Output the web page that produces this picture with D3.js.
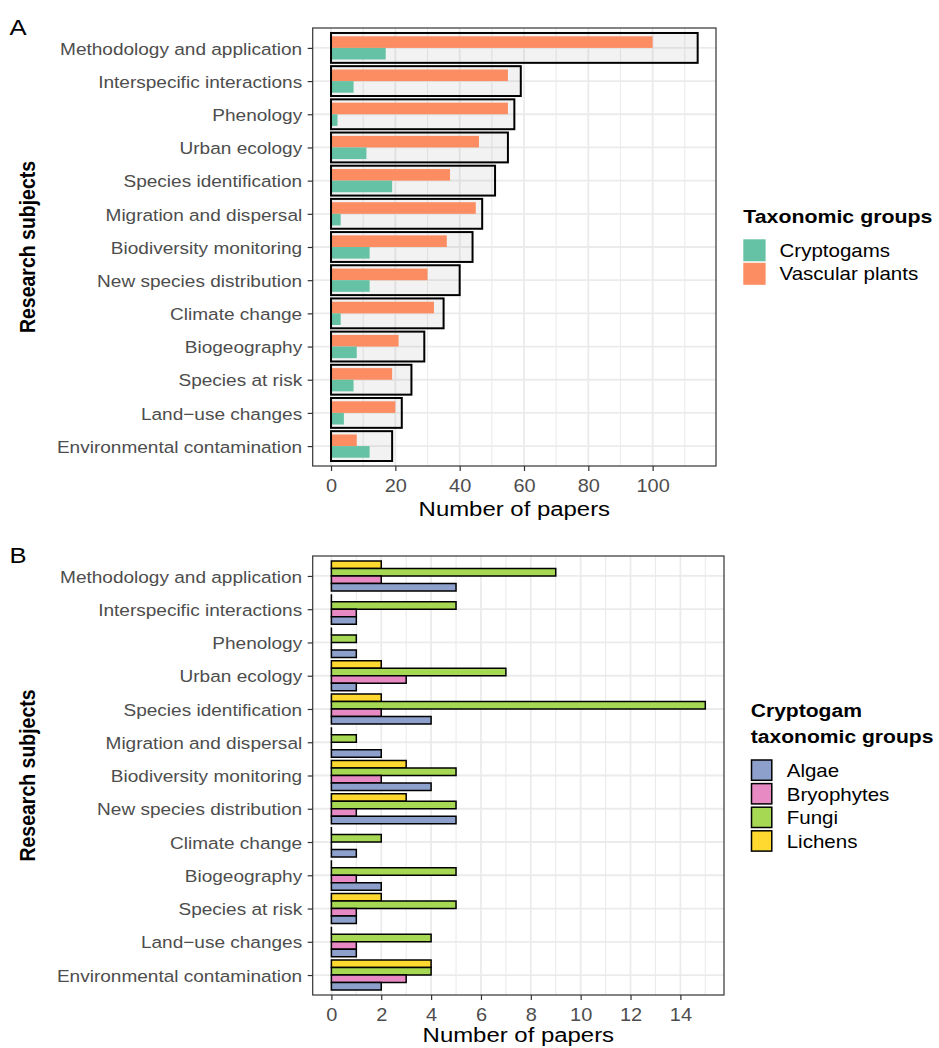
<!DOCTYPE html>
<html>
<head>
<meta charset="utf-8">
<script src="https://cdn.jsdelivr.net/npm/d3@7"></script>
<style>
  body { margin: 0; background: #fff; }
  svg { display: block; }
  text { font-family: "Liberation Sans", Arial, Helvetica, sans-serif; }
</style>
</head>
<body>
<svg id="fig" width="939" height="1048"></svg>
<script>
// ---- data -------------------------------------------------------------
const subjects = [
  "Methodology and application", "Interspecific interactions", "Phenology",
  "Urban ecology", "Species identification", "Migration and dispersal",
  "Biodiversity monitoring", "New species distribution", "Climate change",
  "Biogeography", "Species at risk", "Land\u2212use changes",
  "Environmental contamination"
];

// Panel A: papers per subject (total) and split by taxonomic group
const totalPapers    = [114, 59, 57, 55, 51, 47, 44, 40, 35, 29, 25, 22, 19];
const vascularPlants = [100, 55, 55, 46, 37, 45, 36, 30, 32, 21, 19, 20, 8];
const cryptogams     = [17, 7, 2, 11, 19, 3, 12, 12, 3, 8, 7, 4, 12];

// Panel B: papers per subject by cryptogam group
const algae      = [5, 1, 1, 1, 4, 2, 4, 5, 1, 2, 1, 1, 2];
const bryophytes = [2, 1, 0, 3, 2, 0, 2, 1, 0, 1, 1, 1, 3];
const fungi      = [9, 5, 1, 7, 15, 1, 5, 5, 2, 5, 5, 4, 4];
const lichens    = [2, 0, 0, 2, 2, 0, 3, 3, 0, 0, 2, 0, 4];

const groupsA = ["Cryptogams", "Vascular plants"];
const groupsB = ["Algae", "Bryophytes", "Fungi", "Lichens"];
const ticksA = [0, 20, 40, 60, 80, 100];
const ticksB = [0, 2, 4, 6, 8, 10, 12, 14];

// ---- styling ------------------------------------------------------------
const SX = 1.14;                 // horizontal text stretch
const colA = d3.scaleOrdinal(groupsA, ["#66C2A5", "#FC8D62"]);
const colB = d3.scaleOrdinal(groupsB, ["#8DA0CB", "#E78AC3", "#A6D854", "#FFD92F"]);
const GRID = "#EBEBEB", AXIS = "#333333", TICKTXT = "#4D4D4D";

const svg = d3.select("#fig");

function label(g, x, y, str, o = {}) {
  return g.append("text")
    .attr("transform", `translate(${x},${y}) scale(${SX},1)` + (o.rotate ? ` rotate(${o.rotate})` : ""))
    .attr("text-anchor", o.anchor || "start")
    .attr("font-size", o.size || 17)
    .attr("font-weight", o.bold ? "bold" : null)
    .attr("fill", o.fill || "#000")
    .text(str);
}

// Builds one panel frame: grid, axes, titles. Returns scales.
function panel(cfg) {
  const g = svg.append("g");
  const x = d3.scaleLinear().domain(cfg.xDomain).range([cfg.left, cfg.right]);
  const y = d3.scalePoint().domain(subjects).range([cfg.top, cfg.bottom]).padding(0.6);
  const step = y.step();

  // grid: minor, major vertical; horizontal at categories
  g.append("g").selectAll("line").data(cfg.minor).join("line")
    .attr("x1", d => x(d)).attr("x2", d => x(d))
    .attr("y1", cfg.top).attr("y2", cfg.bottom)
    .attr("stroke", GRID).attr("stroke-width", 1.1);
  g.append("g").selectAll("line").data(cfg.ticks).join("line")
    .attr("x1", d => x(d)).attr("x2", d => x(d))
    .attr("y1", cfg.top).attr("y2", cfg.bottom)
    .attr("stroke", GRID).attr("stroke-width", 1.8);
  g.append("g").selectAll("line").data(subjects).join("line")
    .attr("x1", cfg.left).attr("x2", cfg.right)
    .attr("y1", d => y(d)).attr("y2", d => y(d))
    .attr("stroke", GRID).attr("stroke-width", 1.8);

  const marks = g.append("g");

  // panel border
  g.append("rect")
    .attr("x", cfg.left).attr("y", cfg.top)
    .attr("width", cfg.right - cfg.left).attr("height", cfg.bottom - cfg.top)
    .attr("fill", "none").attr("stroke", AXIS).attr("stroke-width", 1.2);

  // x axis
  const xa = g.append("g").attr("transform", `translate(0,${cfg.bottom})`)
    .call(d3.axisBottom(x).tickValues(cfg.ticks).tickSize(5).tickSizeOuter(0));
  xa.select(".domain").remove();
  xa.selectAll(".tick line").attr("stroke", AXIS).attr("stroke-width", 1.2);
  xa.selectAll(".tick text")
    .attr("y", 0).attr("dy", null)
    .attr("transform", `translate(0,26) scale(${SX},1)`)
    .attr("font-size", 17.5).attr("fill", TICKTXT)
    .attr("font-family", null);

  // y axis
  const ya = g.append("g").attr("transform", `translate(${cfg.left},0)`)
    .call(d3.axisLeft(y).tickSize(5).tickSizeOuter(0));
  ya.select(".domain").remove();
  ya.selectAll(".tick line").attr("stroke", AXIS).attr("stroke-width", 1.2);
  ya.selectAll(".tick text")
    .attr("x", 0).attr("dy", null)
    .attr("transform", `translate(-10.5,6.2) scale(${SX},1)`)
    .attr("font-size", 16.7).attr("fill", TICKTXT)
    .attr("font-family", null);

  // titles
  label(g, (cfg.left + cfg.right) / 2, cfg.xTitleY, "Number of papers", { anchor: "middle", size: 21 });
  label(g, 35, (cfg.top + cfg.bottom) / 2, "Research subjects", { anchor: "middle", size: 19.5, bold: true, rotate: -90 });
  label(g, 9.5, cfg.top + 6.5, cfg.tag, { size: 22.5 });

  return { marks, x, y, step };
}

// ---- Panel A ----------------------------------------------------------
const A = panel({
  left: 312.7, right: 716, top: 28, bottom: 466,
  xDomain: [-5.7, 119.7], ticks: ticksA, minor: [10, 30, 50, 70, 90, 110],
  xTitleY: 515.5, tag: "A"
});
{
  const { marks, x, y, step } = A;
  const rowsA = subjects.map((s, i) => ({ s, total: totalPapers[i], vasc: vascularPlants[i], cryp: cryptogams[i] }));
  // total box (fill)
  marks.selectAll("rect.tot").data(rowsA).join("rect").attr("class", "tot")
    .attr("x", x(0)).attr("y", d => y(d.s) - 0.45 * step)
    .attr("width", d => x(d.total) - x(0)).attr("height", 0.9 * step)
    .attr("fill", "#808080").attr("fill-opacity", 0.1);
  // group bars
  const bw = 0.35 * step;
  marks.selectAll("rect.vasc").data(rowsA).join("rect").attr("class", "vasc")
    .attr("x", x(0)).attr("y", d => y(d.s) - bw)
    .attr("width", d => x(d.vasc) - x(0)).attr("height", bw)
    .attr("fill", colA("Vascular plants"));
  marks.selectAll("rect.cryp").data(rowsA).join("rect").attr("class", "cryp")
    .attr("x", x(0)).attr("y", d => y(d.s))
    .attr("width", d => x(d.cryp) - x(0)).attr("height", bw)
    .attr("fill", colA("Cryptogams"));
  // total box outline
  marks.selectAll("rect.totline").data(rowsA).join("rect").attr("class", "totline")
    .attr("x", x(0)).attr("y", d => y(d.s) - 0.45 * step)
    .attr("width", d => x(d.total) - x(0)).attr("height", 0.9 * step)
    .attr("fill", "none").attr("stroke", "#000").attr("stroke-width", 2);
}

// ---- Panel B ----------------------------------------------------------
const B = panel({
  left: 312.7, right: 724, top: 556, bottom: 995,
  xDomain: [-0.75, 15.75], ticks: ticksB, minor: [1, 3, 5, 7, 9, 11, 13, 15],
  xTitleY: 1042, tag: "B"
});
{
  const { marks, x, y, step } = B;
  const series = { Algae: algae, Bryophytes: bryophytes, Fungi: fungi, Lichens: lichens };
  const order = ["Lichens", "Fungi", "Bryophytes", "Algae"];   // top to bottom within a row
  const bh = 0.9 * step / 4;
  const rowsB = [];
  subjects.forEach((s, i) => order.forEach((grp, k) => rowsB.push({ s, grp, k, v: series[grp][i] })));
  marks.selectAll("path").data(rowsB).join("path")
    .attr("d", d => {
      const x0 = x(0), x1 = x(d.v), y0 = y(d.s) - 0.45 * step + d.k * bh;
      return `M${x0},${y0}H${x1}V${y0 + bh}H${x0}Z`;
    })
    .attr("fill", d => colB(d.grp))
    .attr("stroke", "#000").attr("stroke-width", 1.5);
}

// ---- Legends ------------------------------------------------------------
{
  const g = svg.append("g");
  label(g, 743.3, 223.3, "Taxonomic groups", { size: 18.7, bold: true });
  groupsA.forEach((grp, i) => {
    g.append("rect").attr("x", 743.3).attr("y", 239.3 + i * 23.5)
      .attr("width", 22.3).attr("height", 22).attr("fill", colA(grp));
    label(g, 779.5, 256.8 + i * 23.5, grp, { size: 18 });
  });
}
{
  const g = svg.append("g");
  label(g, 750.7, 716.7, "Cryptogam", { size: 18.5, bold: true });
  label(g, 750.7, 743, "taxonomic groups", { size: 18.5, bold: true });
  groupsB.forEach((grp, i) => {
    g.append("rect").attr("x", 751.5).attr("y", 760 + i * 23.6)
      .attr("width", 20.3).attr("height", 20.3)
      .attr("fill", colB(grp)).attr("stroke", "#000").attr("stroke-width", 1.5);
    label(g, 786.7, 777.2 + i * 23.6, grp, { size: 18 });
  });
}
</script>
</body>
</html>
